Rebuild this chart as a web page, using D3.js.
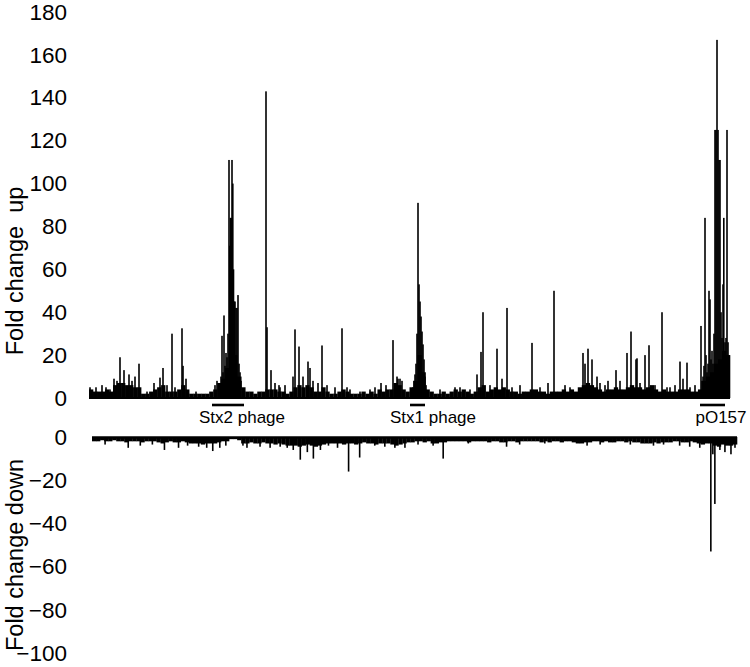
<!DOCTYPE html>
<html><head><meta charset="utf-8">
<script src="https://cdn.jsdelivr.net/npm/d3@7"></script>
<style>body{margin:0;background:#fff} text{font-family:Arial,"Liberation Sans",sans-serif;fill:#000}</style>
</head><body><svg id="c" width="750" height="667"></svg>
<script>
// genome coordinate units 0..641 (ordered position along chromosome + pO157)
const genomeLength = 641;
const upTicks = [0,20,40,60,80,100,120,140,160,180];
const downTicks = [0,-20,-40,-60,-80,-100];

// background fold change (up), 160 equal bins along the genome
const upBackground = [
 4,3,3,3,4,3,6,7,7,6, 6,5,5,2,2,3,4,5,6,3,
 3,3,4,6,4,2,2,2,2,2, 3,4,7,9,14,20,20,10,5,3,
 3,2,3,3,4,4,4,3,3,2, 3,5,6,5,6,5,3,3,5,3,
 2,2,3,4,3,2,2,2,3,2, 3,2,4,3,4,4,7,6,4,3,
 5,8,20,12,4,3,2,2,3,2, 3,4,3,4,3,2,3,5,6,3,
 4,5,4,5,4,3,3,2,3,3, 4,4,3,3,2,3,3,3,4,3,
 4,3,5,6,7,6,5,4,3,4, 4,5,4,4,5,6,5,5,4,5,
 6,4,3,4,3,3,3,4,4,4, 3,3,4,8,10,12,16,18,22,20
];
// individual genes standing above background (up)
const upPeakPos = [1,7,13,17,21,25,28,31,35,40,43,46,50,58,65,71,74,78,83,86,93,94,97,107,
 126,128,130,132,133,134,135,136,137,138,139,140,140.8,141.5,142.2,143,143.8,144.5,145.2,146,147,148,149,150,151,152,
 177,178,182,186,190,191,196,204,206,210,214,219,221,224,229,233,238,246,253,258,261,271,281,286,292,297,304,308,309,311,313,
 324,325,326,327,328,329,330,331,332,333,334,335,336,337,
 351,366,371,381,388,392,394,401,408,413,418,423,431,443,451,459,465,476,481,494,496,499,503,508,511,516,519,527,531,538,542,547,548,551,556,560,566,573,578,581,586,591,594,598,601,606,
 612,613,614,615,616,617,618,619,620,621,622,623,624,625,626,627,628,629,630,631,632,633,634,634.8,636,637,638,639,640];
const upPeakVal = [5,5,6,5,4,9,8,19,13,11,8,10,16,3,7,9.5,14,6,30,5,32.5,15,9,3,
 6,8,7,10,29,12,38.5,15,21,19,30,111,71,84,84,111,100,60,45,45,42,42,48,16,12,8,
 143,33,13,7,6,5,6,10,32,24,10,17,14,8,7,24.5,6,5,32.5,5,4,3,4,5,7,6,27,10,9,9,8,
 5,8,11,16,30,91,53,45,38,31,25,18,10,6,
 4,5,5,4,11,21.5,40,6,23,9,42,5,6,25.7,5,7,50,6,5,21,16,23,18,10,7,6,8,13,8,21,31,18,18.5,7,20,24.6,6,40,5,5,6,17,9,16.5,5,6,
 33.6,8,10,15,84,20,12,16,50,46,18,22,16,30,125,125,167,125,111,111,40,28,53,84,26,28,125,26,20];

// background fold change (down), 160 equal bins
const downBackground = [
 -2,-2,-1.5,-2,-2,-1.5,-2,-2,-2.5,-2, -2,-2,-2.5,-2,-2,-2,-2.5,-3,-2.5,-2,
 -2.5,-2.5,-2,-2.5,-3,-3,-3,-3.5,-3,-3, -3,-2.5,-2,-2,-1,-1,-1.5,-3,-3,-2.5,
 -3,-3,-2.5,-3,-3,-3.5,-3,-3.5,-4,-4, -4,-4.5,-4,-3.5,-4,-4.5,-4,-3.5,-3,-3,
 -3,-3,-3.5,-3,-3,-3.5,-3,-2.5,-3,-3, -3.5,-3,-3,-3,-3.5,-4,-3.5,-3,-2.5,-2.5,
 -2,-2,-2.5,-2,-3,-3,-2.5,-2.5,-2,-2, -2,-2,-2,-2.5,-2,-2,-2,-2,-2.5,-2,
 -2,-2.5,-2.5,-2,-2,-2.5,-2,-2,-2,-2, -2,-2.5,-2,-2.5,-2,-2,-2.5,-2,-2,-2.5,
 -3,-3,-2.5,-2.5,-2,-2,-2.5,-2,-2.5,-2.5, -2,-2,-2.5,-2,-2.5,-2.5,-3,-3,-3,-2.5,
 -3,-2.5,-2.5,-2.5,-2,-2,-2.5,-2.5,-2,-2.5, -3,-3.5,-3,-3,-4,-4.5,-3.5,-4,-4,-3.5
];
const downPeakPos = [13,36,48,60,72,86,95,106,114,120,127,133,150,154,167,177,187,194,200,207,214,220,227,235,244,255,266,281,291,301,311,324,339,349,374,412,425,450,492,505,535,558,568,584,594,604,615,617,619,624,629,635,639];
const downPeakVal = [-3.5,-5,-4,-3.5,-6,-5,-4,-4.5,-5,-6.5,-5,-4,-4,-5,-4.5,-5,-4.5,-5,-6,-10.5,-7,-10,-6,-4,-5,-16,-9.5,-4,-4.5,-5,-5,-3.5,-4,-10,-3,-4.5,-3.5,-3,-4,-3.5,-3.5,-4,-3.5,-4,-4.5,-5,-53,-8,-31,-6,-7,-8,-5];

const regionNames = ["Stx2 phage","Stx1 phage","pO157"];
const regionStart = [123,321,611];
const regionEnd = [155,336,636];
const regionLabelAt = [153,344,632];

const svg = d3.select("#c");
const xUp = d3.scaleLinear().domain([0,genomeLength]).range([89,730]);
const xDown = d3.scaleLinear().domain([0,genomeLength]).range([92,737]);
const yUp = d3.scaleLinear().domain([0,180]).range([398,12]);
const yDown = d3.scaleLinear().domain([-100,0]).range([653,437]);
const binW = genomeLength/upBackground.length;
const binWd = genomeLength/downBackground.length;

// axes (labels only)
const axUp = svg.append("g").attr("transform","translate(73,0)")
  .call(d3.axisLeft(yUp).tickValues(upTicks).tickSize(0).tickPadding(6));
const axDown = svg.append("g").attr("transform","translate(73,0)")
  .call(d3.axisLeft(yDown).tickValues(downTicks).tickSize(0).tickPadding(6));
[axUp,axDown].forEach(a=>{a.select(".domain").remove();
  a.selectAll("text").attr("font-size","22.5px").attr("font-family","Arial, 'Liberation Sans', sans-serif").attr("fill","#000");});

// up bars
svg.append("g").selectAll("rect").data(upBackground).join("rect")
  .attr("x",(d,i)=>xUp(i*binW)).attr("width",(d,i)=>xUp((i+1)*binW)-xUp(i*binW)+0.3)
  .attr("y",d=>yUp(d)).attr("height",d=>yUp(0)-yUp(d)).attr("fill","#000");
svg.append("g").selectAll("rect").data(upPeakPos).join("rect")
  .attr("x",d=>xUp(d)-0.8).attr("width",1.6)
  .attr("y",(d,i)=>yUp(upPeakVal[i])).attr("height",(d,i)=>yUp(0)-yUp(upPeakVal[i])).attr("fill","#000");
svg.append("line").attr("x1",xUp(0)).attr("x2",xUp(genomeLength)).attr("y1",yUp(0)).attr("y2",yUp(0))
  .attr("stroke","#000").attr("stroke-width",2);

// down bars
svg.append("g").selectAll("rect").data(downBackground).join("rect")
  .attr("x",(d,i)=>xDown(i*binWd)).attr("width",(d,i)=>xDown((i+1)*binWd)-xDown(i*binWd)+0.3)
  .attr("y",yDown(0)).attr("height",d=>yDown(d)-yDown(0)).attr("fill","#000");
svg.append("g").selectAll("rect").data(downPeakPos).join("rect")
  .attr("x",d=>xDown(d)-0.8).attr("width",1.6)
  .attr("y",yDown(0)).attr("height",(d,i)=>yDown(downPeakVal[i])-yDown(0)).attr("fill","#000");
svg.append("line").attr("x1",xDown(0)).attr("x2",xDown(genomeLength)).attr("y1",yDown(0)+0.5).attr("y2",yDown(0)+0.5)
  .attr("stroke","#000").attr("stroke-width",2.6);

// regions
const rg = svg.append("g");
regionNames.forEach((n,i)=>{
  rg.append("line").attr("x1",xUp(regionStart[i])).attr("x2",xUp(regionEnd[i]))
    .attr("y1",405).attr("y2",405).attr("stroke","#000").attr("stroke-width",2.6);
  rg.append("text").attr("x",xUp(regionLabelAt[i])).attr("y",423).attr("text-anchor","middle")
    .attr("font-size","17px").text(n);
});

// titles
svg.append("text").attr("transform","translate(23,271) rotate(-90)").attr("text-anchor","middle")
  .attr("font-size","23.5px").style("white-space","pre").text("Fold change  up");
svg.append("text").attr("transform","translate(23,555) rotate(-90)").attr("text-anchor","middle")
  .attr("font-size","23.5px").text("Fold change down");
</script></body></html>
